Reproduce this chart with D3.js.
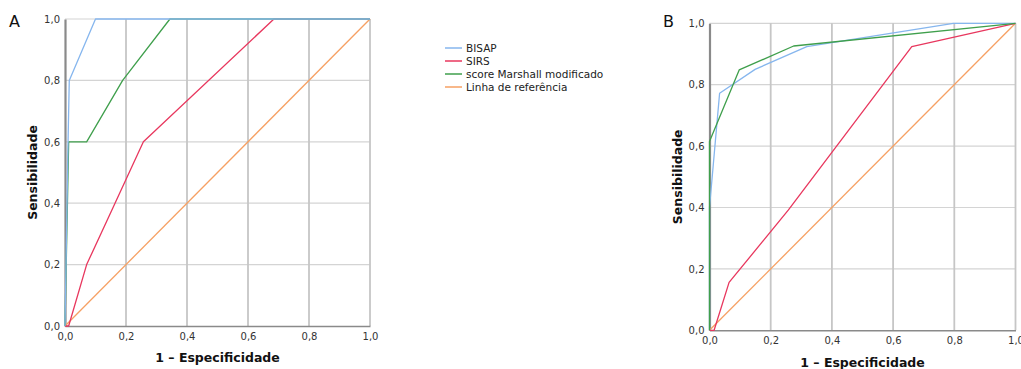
<!DOCTYPE html>
<html>
<head>
<meta charset="utf-8">
<script src="https://cdn.jsdelivr.net/npm/d3@7"></script>
<style>
  html, body { margin: 0; padding: 0; background: #fff; }
  svg { display: block; font-family: "DejaVu Sans", "Open Sans", sans-serif; }
</style>
</head>
<body>
<svg id="chart" width="1021" height="369"></svg>
<script>
// ROC curves: [1 - specificity, sensitivity]
const seriesNames = ["BISAP", "SIRS", "score Marshall modificado", "Linha de referência"];
const seriesColors = ["#86b6ee", "#e8375e", "#3f9f4c", "#f6a063"];

const bisapA = [[0, 0], [0.01, 0.6], [0.014, 0.8], [0.1, 1.0], [1, 1]];
const sirsA = [[0, 0], [0.012, 0], [0.071, 0.2], [0.164, 0.4], [0.257, 0.6], [0.685, 1.0], [1, 1]];
const marshallA = [[0, 0], [0.012, 0.6], [0.071, 0.6], [0.189, 0.8], [0.344, 1.0], [1, 1]];

const bisapB = [[0, 0], [0, 0.4], [0.033, 0.772], [0.149, 0.85], [0.318, 0.924], [0.797, 1.0], [1, 1]];
const sirsB = [[0, 0], [0.015, 0], [0.064, 0.156], [0.258, 0.392], [0.661, 0.924], [1, 1]];
const marshallB = [[0, 0], [0, 0.615], [0.097, 0.848], [0.275, 0.926], [1, 1]];

const referenceLine = [[0, 0], [1, 1]];
const tickValues = [0, 0.2, 0.4, 0.6, 0.8, 1.0];
const fmt = v => d3.format(".1f")(v).replace(".", ",");

const svg = d3.select("#chart");

function drawPanel(opts) {
  const { left, top, width, height, letter, curves, letterX, xTitleY, yTitleX } = opts;
  const x = d3.scaleLinear().domain([0, 1]).range([left, left + width]);
  const y = d3.scaleLinear().domain([0, 1]).range([top + height, top]);
  const g = svg.append("g");

  // horizontal gridlines
  g.append("g").selectAll("line").data(tickValues.slice(1)).join("line")
    .attr("x1", x(0)).attr("x2", x(1))
    .attr("y1", d => y(d)).attr("y2", d => y(d))
    .attr("stroke", "#d4d4d4").attr("stroke-width", 1.2);
  // vertical gridlines
  g.append("g").selectAll("line").data(tickValues.slice(1)).join("line")
    .attr("x1", d => x(d)).attr("x2", d => x(d))
    .attr("y1", y(0)).attr("y2", y(1))
    .attr("stroke", "#c6c6c6").attr("stroke-width", 1.8);

  // axes
  const xAxis = g.append("g").attr("transform", `translate(0,${y(0)})`)
    .call(d3.axisBottom(x).tickValues(tickValues).tickFormat(fmt).tickSize(0).tickPadding(7));
  const yAxis = g.append("g").attr("transform", `translate(${x(0)},0)`)
    .call(d3.axisLeft(y).tickValues(tickValues).tickFormat(fmt).tickSize(0).tickPadding(5));
  xAxis.select(".domain").attr("stroke", "#8a8a8a").attr("stroke-width", 1.5);
  yAxis.select(".domain").attr("stroke", "#8a8a8a").attr("stroke-width", 2.2);
  g.selectAll(".tick text").attr("font-size", 10).attr("fill", "#333")
    .attr("font-family", "'DejaVu Sans', sans-serif");

  // curves
  const line = d3.line().x(d => x(d[0])).y(d => y(d[1]));
  curves.forEach(c => {
    g.append("path").datum(c.data)
      .attr("d", line).attr("fill", "none")
      .attr("stroke", c.color).attr("stroke-width", 1.3)
      .attr("stroke-linejoin", "round");
  });

  // titles
  g.append("text").attr("x", left + width / 2).attr("y", xTitleY)
    .attr("text-anchor", "middle").attr("font-size", 12.5).attr("font-weight", "bold")
    .attr("fill", "#111").text("1 – Especificidade");
  g.append("text")
    .attr("transform", `translate(${yTitleX},${top + height / 2}) rotate(-90)`)
    .attr("text-anchor", "middle").attr("font-size", 12.5).attr("font-weight", "bold")
    .attr("fill", "#111").text("Sensibilidade");
  g.append("text").attr("x", letterX).attr("y", 27)
    .attr("font-size", 16).attr("fill", "#111").text(letter);
}

drawPanel({
  left: 65, top: 19, width: 305, height: 307, letter: "A", letterX: 9,
  xTitleY: 362, yTitleX: 37,
  curves: [
    { data: referenceLine, color: seriesColors[3] },
    { data: sirsA, color: seriesColors[1] },
    { data: marshallA, color: seriesColors[2] },
    { data: bisapA, color: seriesColors[0] }
  ]
});

drawPanel({
  left: 709.5, top: 23.3, width: 306, height: 307, letter: "B", letterX: 663,
  xTitleY: 367, yTitleX: 682,
  curves: [
    { data: referenceLine, color: seriesColors[3] },
    { data: sirsB, color: seriesColors[1] },
    { data: bisapB, color: seriesColors[0] },
    { data: marshallB, color: seriesColors[2] }
  ]
});

// legend
const legend = svg.append("g").attr("transform", "translate(445,48)");
const items = legend.selectAll("g").data(seriesNames).join("g")
  .attr("transform", (d, i) => `translate(0,${i * 13})`);
items.append("line").attr("x1", 0).attr("x2", 17).attr("y1", 0).attr("y2", 0)
  .attr("stroke", (d, i) => seriesColors[i]).attr("stroke-width", 1.5);
items.append("text").attr("x", 21).attr("y", 4).attr("font-size", 10.5)
  .attr("fill", "#222").text(d => d);
</script>
</body>
</html>
